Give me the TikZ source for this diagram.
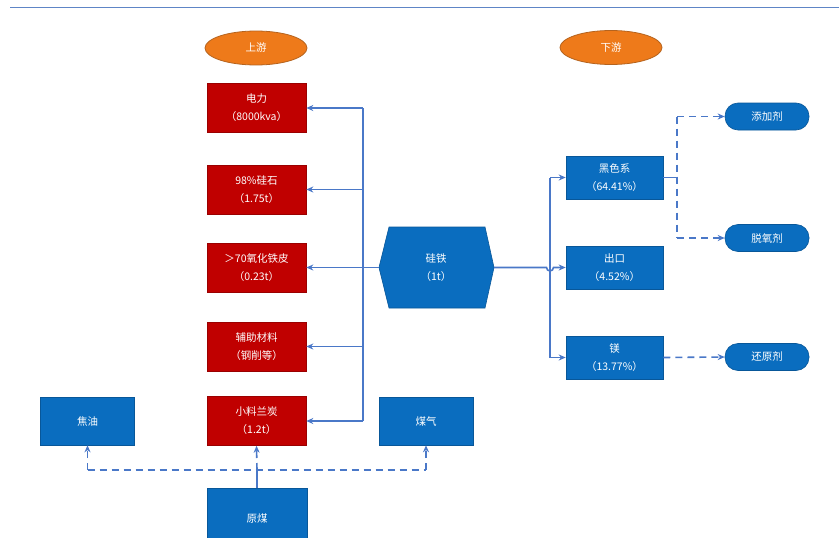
\documentclass[tikz,border=0pt]{standalone}
\usepackage{fontspec}
\setmainfont{Noto Sans CJK SC}
\usetikzlibrary{arrows.meta,shapes.geometric,calc}
\definecolor{boxred}{HTML}{C00000}
\definecolor{boxblue}{HTML}{0A6DBF}
\definecolor{linkblue}{HTML}{4A78C8}
\definecolor{ovalorange}{HTML}{EE7A1A}
\definecolor{ovalborder}{HTML}{B5631E}
\definecolor{ruleblue}{HTML}{5E85C6}
\begin{document}
\begin{tikzpicture}[x=1pt,y=-1pt,
  every node/.style={font=\fontsize{10.5}{18}\selectfont, text=white, align=center, inner sep=0pt},
  redbox/.style={rectangle, fill=boxred, draw=boxred!80!black, line width=0.6pt, minimum width=99pt, minimum height=49pt},
  bluebox/.style={rectangle, fill=boxblue, draw=boxblue!80!black, line width=0.6pt, minimum width=94pt, minimum height=48pt},
  rbox/.style={rectangle, fill=boxblue, draw=boxblue!80!black, line width=0.6pt, minimum width=97pt, minimum height=43pt},
  pill/.style={rectangle, rounded corners=13pt, fill=boxblue, draw=boxblue!80!black, line width=0.6pt, minimum width=84pt, minimum height=27pt},
  oval/.style={ellipse, fill=ovalorange, draw=ovalborder, line width=0.8pt, minimum width=102pt, minimum height=34pt},
  link/.style={draw=linkblue, line width=1.6pt},
  arr/.style={link, -{Stealth[length=7pt,width=6pt]}},
  dlink/.style={link, dash pattern=on 7pt off 5pt},
  darr/.style={dlink, -{Stealth[length=7pt,width=6pt]}}
]
\useasboundingbox (0,0) rectangle (839,538);
\fill[white] (0,0) rectangle (839,538);
\draw[ruleblue, line width=1.8pt] (10,7.5) -- (839,7.5);

\node[oval] (up) at (256,48) {上游};
\node[oval] (down) at (611,47.5) {下游};

\node[redbox] (e1) at (256.5,108) {电力\\（8000kva）};
\node[redbox] (e2) at (256.5,189.5) {98\%硅石\\（1.75t）};
\node[redbox] (e3) at (256.5,267.5) {＞70氧化铁皮\\（0.23t）};
\node[redbox] (e4) at (256.5,346.5) {辅助材料\\（钢削等）};
\node[redbox] (e5) at (256.5,421) {小料兰炭\\（1.2t）};

\node[bluebox] (tar) at (87.5,421) {焦油};
\node[bluebox] (gas) at (426,421) {煤气};
\node[bluebox, minimum width=100pt, minimum height=60pt, anchor=north] (coal) at (257,488) {原煤};

\coordinate (hc) at (436,267.5);
\fill[boxblue, draw=boxblue!80!black, line width=0.6pt]
  (379,267.5) -- (389,227) -- (485,227) -- (494,267.5) -- (485,308) -- (389,308) -- cycle;
\node (si) at (hc) {硅铁\\（1t）};
\coordinate (siL) at (379,267.5);
\coordinate (siR) at (494,267.5);

\node[rbox] (b1) at (614.5,177.5) {黑色系\\（64.41\%）};
\node[rbox] (b2) at (614.5,267.5) {出口\\（4.52\%）};
\node[rbox] (b3) at (614.5,357.5) {镁\\（13.77\%）};

\node[pill] (p1) at (767,116.5) {添加剂};
\node[pill] (p2) at (767,238) {脱氧剂};
\node[pill] (p3) at (767,357) {还原剂};

% upstream connectors
\coordinate (vx) at (363,0);
\draw[link] (siL) -- (siL -| vx);
\draw[link] (e1.east -| vx) -- (e5.east -| vx);
\foreach \n in {e1,e2,e3,e4,e5} \draw[arr] (\n.east -| vx) -- (\n.east);

% coal connectors
\coordinate (dy) at (0,470);
\draw[link] (coal.north) -- (coal.north |- dy);
\draw[darr] (coal.north |- dy) -- (e5.south);
\draw[dlink] (tar.south |- dy) -- (gas.south |- dy);
\draw[darr] (tar.south |- dy) -- (tar.south);
\draw[darr] (gas.south |- dy) -- (gas.south);

% downstream connectors
\coordinate (wx) at (550,0);
\draw[link] (b1.west -| wx) -- (b3.west -| wx);
\draw[arr] (b1.west -| wx) -- (b1.west);
\draw[arr] (b3.west -| wx) -- (b3.west);
\draw[arr] (siR) -- ($(siR -| wx)+(-3.5,0)$) arc[start angle=180, end angle=0, radius=3.5] -- (b2.west);

% additive connectors
\coordinate (ax) at (677,0);
\draw[link] (b1.east) -- (b1.east -| ax);
\draw[dlink] (p1.west -| ax) -- (p2.west -| ax);
\draw[darr] (p1.west -| ax) -- (p1.west);
\draw[darr] (p2.west -| ax) -- (p2.west);
\draw[darr] (b3.east) -- (p3.west);
\end{tikzpicture}
\end{document}
